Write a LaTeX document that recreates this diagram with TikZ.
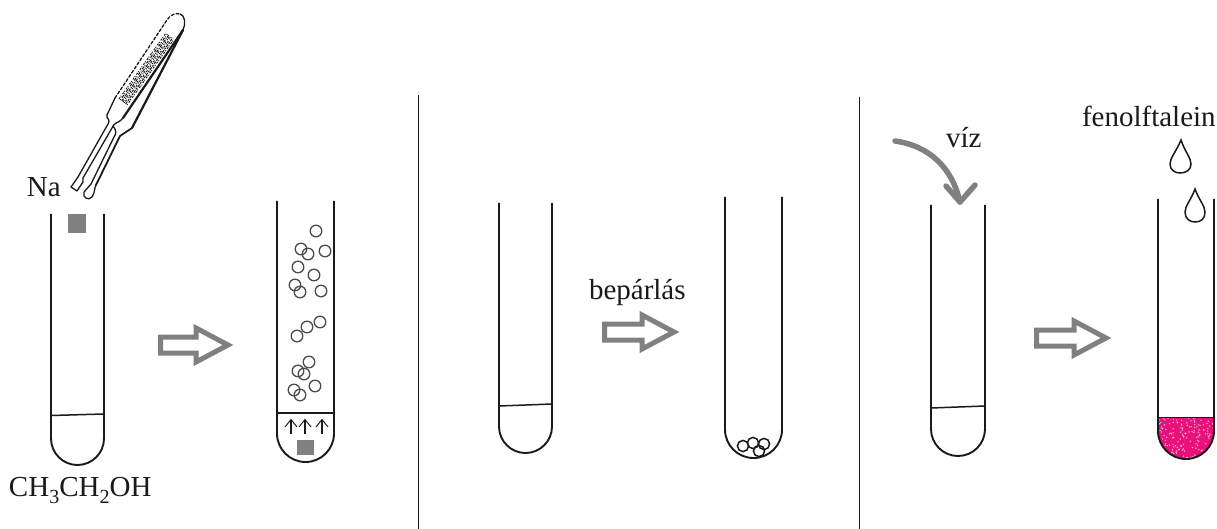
\documentclass[tikz,border=0pt]{standalone}
\usepackage{fontspec}
\setmainfont{Liberation Serif}
\definecolor{ink}{HTML}{1A1A1A}
\definecolor{arrowgray}{HTML}{808080}
\definecolor{pinkfill}{HTML}{E8107A}
\newcommand{\tubepath}[4]{(#1,#3) -- (#1,{#4-(#2-#1)/2}) arc[start angle=180,end angle=0,radius={(#2-#1)/2}] -- (#2,#3)}
\newcommand{\hollowarrow}[3]{% left x, right x (outer tip), centre y
  \draw[blockarrow] (#1+2.5,#3-8) -- (#2-38,#3-8) -- (#2-38,#3-17) -- (#2-6,#3) -- (#2-38,#3+17) -- (#2-38,#3+8) -- (#1+2.5,#3+8) -- cycle;}
\newcommand{\subdigit}[1]{\raisebox{-7.5pt}{\fontsize{20}{20}\selectfont #1}}
\tikzset{
  tube/.style={draw=ink,line width=1.9pt},
  thinline/.style={draw=ink,line width=1.5pt},
  divider/.style={draw=ink,line width=1pt},
  blockarrow/.style={draw=arrowgray,line width=5pt,fill=white,line join=miter},
  bubble/.style={draw=black!70,line width=1.3pt},
  sodium/.style={fill=arrowgray,draw=none},
  label/.style={inner sep=0pt,outer sep=0pt,text=ink,font=\fontsize{29}{32}\selectfont},
  tw/.style={draw=ink,line width=1.3pt,line cap=round,line join=round},
  stip/.style={draw=ink,line width=1pt}
}
\begin{document}
\begin{tikzpicture}[x=1pt,y=-1pt]
\useasboundingbox (0,0) rectangle (1217,529);
\fill[white] (0,0) rectangle (1217,529);
% dividers
\draw[divider] (418,95) -- (418,529);
\draw[divider] (859,97) -- (859,529);
% pink liquid with light specks
\begin{scope}
\clip (1158,418) -- (1158,431) arc[start angle=180,end angle=0,radius=28] -- (1214,418) -- cycle;
\fill[pinkfill] (1150,410) rectangle (1220,465);
\pgfmathsetseed{7}
\foreach \i in {1,...,170}{
  \pgfmathsetmacro{\sx}{1158+56*rnd}
  \pgfmathsetmacro{\sy}{418+41*rnd}
  \fill[white,opacity=.65] (\sx,\sy) circle[radius=.8];
}
\end{scope}
% tubes
\draw[tube] \tubepath{51}{104}{214}{465};
\draw[tube] \tubepath{277}{334}{201}{462};
\draw[tube] \tubepath{499}{552}{203}{453};
\draw[tube] \tubepath{725}{782}{197}{458};
\draw[tube] \tubepath{931}{985}{205}{456};
\draw[tube] \tubepath{1158}{1214}{199}{459};
% liquid levels
\draw[thinline] (51,415.5) -- (104,414);
\draw[thinline] (277,413) -- (334,413);
\draw[thinline] (499,406) -- (552,404);
\draw[thinline] (931,408) -- (985,406);
\draw[thinline] (1158,417.5) -- (1214,417.5);
% thick wall patches
\draw[tube] (334.5,235) -- (334.5,270);
\draw[tube] (277.5,363) -- (277.5,380);
% sodium
\fill[sodium] (68,214) rectangle (86,233);
\fill[sodium] (297,440) rectangle (314,455);
% rising arrows
\foreach \ax in {291,305,322}{
  \draw[draw=ink,line width=1.2pt] (\ax,434) -- (\ax,420);
  \draw[draw=ink,line width=1pt] (\ax-6,427) -- (\ax,419.5) -- (\ax+6,427);
}
% bubbles
\foreach \bx/\by in {316/231,301/249,308/254,325/251,298/267,314/275,295/285,300/292,321/291,320/322,307/327,297/336,309/362,298/371,304/374,315/386,294/390,300/395}{
  \draw[bubble] (\bx,\by) circle[radius=5.8];
}
% residue
\foreach \bx/\by in {743/446,753/443,764/444,759/451}{
  \draw[thinline] (\bx,\by) circle[radius=5.6];
}
% block arrows
\hollowarrow{158}{234}{345}
\hollowarrow{602}{680}{332}
\hollowarrow{1034}{1112}{338}
% water arrow
\draw[arrowgray,line width=5.5pt,line cap=round] (895,141) .. controls (930,146) and (952,168) .. (960,202);
\draw[arrowgray,line width=5.5pt,line cap=round,line join=round] (946,186) -- (960,202) -- (975,185);
% drops
\draw[thinline] (1181,140) .. controls (1176,152) and (1170,158) .. (1170,164) .. controls (1170,170) and (1175,173) .. (1180,173) .. controls (1186,173) and (1191,170) .. (1191,164) .. controls (1191,158) and (1185,152) .. (1181,140) -- cycle;
\draw[thinline] (1195,189) .. controls (1191,200) and (1185,206) .. (1185,212) .. controls (1185,219) and (1190,222) .. (1195,222) .. controls (1201,222) and (1205,219) .. (1205,212) .. controls (1205,206) and (1199,200) .. (1195,189) -- cycle;
% tweezers: upper blade
\draw[tw,densely dashed] (115,98) -- (167,20) .. controls (171,14) and (176,13) .. (180,14);
\draw[tw] (180,14) .. controls (185,15) and (186,24) .. (183,30);
\draw[tw] (107,115) -- (115,98);
\draw[tw,line width=2.2pt] (183,30) -- (123,118);
\draw[tw,line width=2.2pt] (183,30) -- (132,128);
% tweezers: left arm
\draw[tw] (107,115) .. controls (106,120) and (111,118) .. (108,124) -- (78,177);
\draw[tw] (123,118) .. controls (118,124) and (114,122) .. (112,128) -- (83,178);
% tweezers: right arm
\draw[tw,line width=1.8pt] (132,128) -- (120,136) -- (96,185);
\draw[tw] (113,126) .. controls (116,130) and (117,133) .. (114,137) -- (91,184);
% paddles
\draw[tw] (78,177) -- (71,187) -- (77,191) -- (83,182) -- (83,178);
\draw[tw] (91,184) -- (84,192) .. controls (82,198) and (89,201) .. (92,197) .. controls (95,193) and (94,189) .. (96,185);
% tweezers: stippled grip
\foreach \sft/\pat in {-5/{on 2pt off 1pt on 1pt off 2pt},-3.3/{on 1pt off 2pt on 3pt off 1pt},-1.6/{on 3pt off 1pt on 1pt off 1pt},0/{on 2pt off 2pt on 1pt off 1pt},1.6/{on 1pt off 1pt on 2pt off 2pt},3.3/{on 3pt off 1pt on 2pt off 1pt},5/{on 1pt off 2pt on 2pt off 1pt}}{
  \draw[stip,dash pattern/.expanded={\pat}] (123+.8*\sft,102+.6*\sft) -- (170+.8*\sft,36+.6*\sft);
}
% labels
\node[label,anchor=base west] (na) at (27,197) {Na};
\node[label,anchor=base west] (ethanol) at (9,496) {CH\subdigit{3}CH\subdigit{2}OH};
\node[label,anchor=base west] (bepar) at (589,299) {bepárlás};
\node[label,anchor=base west] (viz) at (946,148) {víz};
\node[label,anchor=base west] (fenol) at (1082,127) {fenolftalein};
\end{tikzpicture}
\end{document}
